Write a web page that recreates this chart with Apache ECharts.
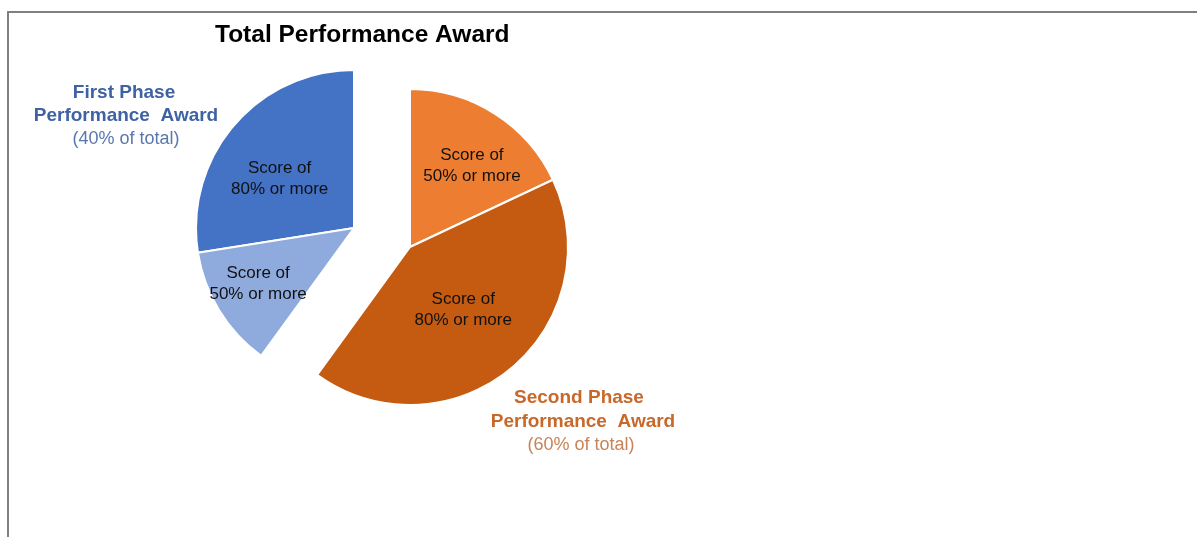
<!DOCTYPE html>
<html>
<head>
<meta charset="utf-8">
<title>Total Performance Award</title>
<script src="https://cdn.jsdelivr.net/npm/echarts@6/dist/echarts.min.js"></script>
<style>
  html, body { margin: 0; padding: 0; background: #fff; }
  #frame {
    position: absolute; left: 7px; top: 11px; right: 0; bottom: 0;
    border-left: 2px solid #808080; border-top: 2px solid #808080;
  }
  #award-chart { position: absolute; left: 0; top: 0; width: 1197px; height: 537px; }
</style>
</head>
<body>
<div id="frame"></div>
<div id="award-chart"></div>
<script>
// share of the total award, in percent
const firstPhaseNames = ['Score of\n80% or more', 'Score of\n50% or more'];
const firstPhaseValues = [27.5, 12.5];
const secondPhaseNames = ['Score of\n50% or more', 'Score of\n80% or more'];
const secondPhaseValues = [18, 42];

const firstPhaseColors = ['#4472c4', '#8faadc'];
const secondPhaseColors = ['#ed7d31', '#c55a11'];

// nudges for the slice labels (excel "best fit" placement)
const firstLabelShift = [[-12, 4], [-26, 13]];
const secondLabelShift = [[18, -12], [1, 0]];

const FONT = "'Liberation Sans', Arial, sans-serif";

function sum(arr) {
	return arr.reduce(function (a, b) { return a + b; }, 0);
}

// each phase is its own pie, the rest of the circle is left empty
function buildData(names, values, colors) {
	let data = names.map(function (n, i) {
		return { name: n, value: values[i], itemStyle: { color: colors[i] } };
	});
	data.push({
		name: 'rest',
		value: 100 - sum(values),
		itemStyle: { color: 'transparent', borderWidth: 0 },
		label: { show: false },
		emphasis: { disabled: true },
		tooltip: { show: false }
	});
	return data;
}

function pieSeries(name, center, clockwise, data, shift) {
	return {
		name: name,
		type: 'pie',
		center: center,
		radius: 158,
		startAngle: 90,
		clockwise: clockwise,
		avoidLabelOverlap: false,
		animation: false,
		itemStyle: { borderColor: '#fff', borderWidth: 2 },
		label: {
			show: true,
			position: 'inside',
			formatter: '{b}',
			color: '#111',
			fontFamily: FONT,
			fontSize: 17,
			lineHeight: 21
		},
		labelLayout: function (p) {
			let s = shift[p.dataIndex] || [0, 0];
			return { dx: s[0], dy: s[1] };
		},
		data: data
	};
}

let chart = echarts.init(document.getElementById('award-chart'));
chart.setOption({
	title: {
		text: 'Total Performance Award',
		left: 215,
		top: 23,
		padding: 0,
		textStyle: { fontFamily: FONT, fontSize: 24.5, fontWeight: 'bold', color: '#000' }
	},
	series: [
		pieSeries('First Phase', [354, 228], false,
			buildData(firstPhaseNames, firstPhaseValues, firstPhaseColors), firstLabelShift),
		pieSeries('Second Phase', [410, 247], true,
			buildData(secondPhaseNames, secondPhaseValues, secondPhaseColors), secondLabelShift)
	],
	graphic: [
		{
			type: 'group',
			children: [
				{ type: 'text', x: 124, y: 93, style: { text: 'First Phase', font: 'bold 19px ' + FONT, fill: '#3f62a3', align: 'center', verticalAlign: 'middle' } },
				{ type: 'text', x: 126, y: 116, style: { text: 'Performance  Award', font: 'bold 19px ' + FONT, fill: '#3f62a3', align: 'center', verticalAlign: 'middle' } },
				{ type: 'text', x: 126, y: 139, style: { text: '(40% of total)', font: '18px ' + FONT, fill: '#5a77b0', align: 'center', verticalAlign: 'middle' } }
			]
		},
		{
			type: 'group',
			children: [
				{ type: 'text', x: 579, y: 398, style: { text: 'Second Phase', font: 'bold 19px ' + FONT, fill: '#c8682a', align: 'center', verticalAlign: 'middle' } },
				{ type: 'text', x: 583, y: 422, style: { text: 'Performance  Award', font: 'bold 19px ' + FONT, fill: '#c8682a', align: 'center', verticalAlign: 'middle' } },
				{ type: 'text', x: 581, y: 445, style: { text: '(60% of total)', font: '18px ' + FONT, fill: '#c98358', align: 'center', verticalAlign: 'middle' } }
			]
		}
	]
});
</script>
</body>
</html>
